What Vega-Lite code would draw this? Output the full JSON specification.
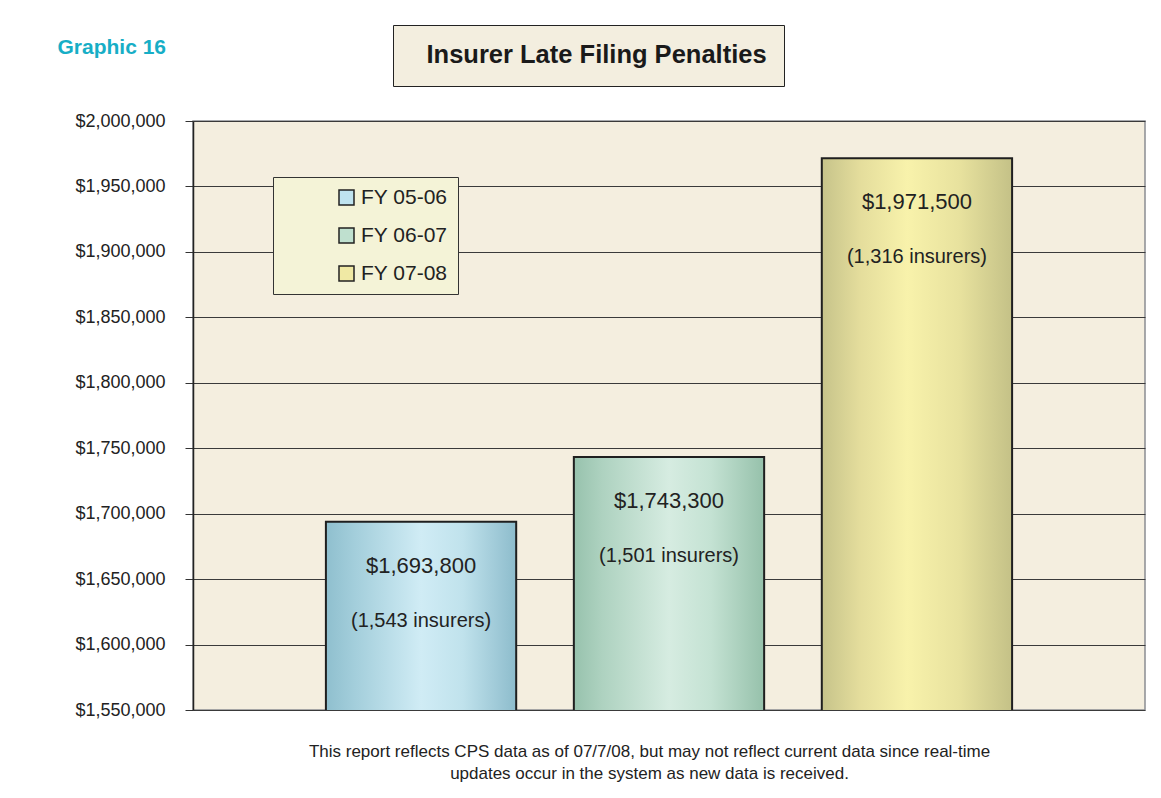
{
  "$schema": "https://vega.github.io/schema/vega-lite/v6.json",
  "autosize": {"type": "none"},
  "width": 952,
  "height": 589,
  "padding": {"left": 193, "top": 121, "right": 16, "bottom": 88},
  "background": "white",
  "config": {
    "font": "Liberation Sans",
    "view": {"fill": "#f4eedf", "stroke": "#8a8d92", "strokeWidth": 1.5}
  },
  "data": {
    "values": [
      {"fy": "FY 05-06", "penalty": 1693800, "insurers": 1543},
      {"fy": "FY 06-07", "penalty": 1743300, "insurers": 1501},
      {"fy": "FY 07-08", "penalty": 1971500, "insurers": 1316}
    ]
  },
  "transform": [
    {"calculate": "'(' + format(datum.insurers, ',') + ' insurers)'", "as": "insurers_label"}
  ],
  "encoding": {
    "x": {
      "field": "fy",
      "type": "nominal",
      "sort": null,
      "scale": {"paddingInner": 0.2325, "paddingOuter": 0.536},
      "axis": {
        "labels": false,
        "ticks": false,
        "domain": false,
        "title": ["This report reflects CPS data as of 07/7/08, but may not reflect current data since real-time", "updates occur in the system as new data is received."],
        "titleFontSize": 17,
        "titleFontWeight": "normal",
        "titleColor": "#222222",
        "titleX": 456,
        "titleY": 33,
        "titleAlign": "center",
        "titleBaseline": "top",
        "titleLineHeight": 22
      }
    },
    "y": {
      "field": "penalty",
      "type": "quantitative",
      "scale": {"domain": [1550000, 2000000], "nice": false, "zero": false},
      "axis": {
        "values": [1550000, 1600000, 1650000, 1700000, 1750000, 1800000, 1850000, 1900000, 1950000, 2000000],
        "format": "$,.0f",
        "labelFontSize": 18,
        "labelColor": "#222222",
        "labelPadding": 20,
        "tickSize": 8,
        "tickColor": "#333333",
        "domainColor": "#222222",
        "domainWidth": 1.5,
        "grid": true,
        "gridColor": "#3a3a3a",
        "gridWidth": 1,
        "title": "Graphic 16",
        "titleAngle": 0,
        "titleAlign": "left",
        "titleBaseline": "middle",
        "titleX": -136,
        "titleY": -74,
        "titleFontSize": 21,
        "titleFontWeight": "bold",
        "titleColor": "#17aec6"
      }
    }
  },
  "layer": [
    {
      "mark": {"type": "bar", "clip": true},
      "encoding": {
        "color": {
          "field": "fy",
          "type": "nominal",
          "scale": {"range": ["#bfe3ef", "#bfe0cf", "#f0e9a4"]},
          "legend": {
            "title": null,
            "orient": "none",
            "legendX": 80,
            "legendY": 56,
            "fillColor": "#f4f3d7",
            "strokeColor": "#333333",
            "padding": 10,
            "symbolOffset": 53,
            "symbolType": "square",
            "symbolSize": 225,
            "symbolStrokeColor": "#222222",
            "symbolStrokeWidth": 1.5,
            "labelFontSize": 21,
            "labelColor": "#222222",
            "labelOffset": 4,
            "rowPadding": 16
          }
        }
      }
    },
    {
      "mark": {"type": "bar", "strokeWidth": 2, "clip": true},
      "encoding": {
        "fill": {
          "condition": [
            {"test": "datum.fy === 'FY 05-06'", "value": {"gradient": "linear", "x1": 0, "y1": 0, "x2": 1, "y2": 0, "stops": [
              {"offset": 0, "color": "#8fbfce"},
              {"offset": 0.15, "color": "#a3cedb"},
              {"offset": 0.5, "color": "#d0ecf5"},
              {"offset": 0.72, "color": "#c0e2ec"},
              {"offset": 1, "color": "#8dbccc"}
            ]}},
            {"test": "datum.fy === 'FY 06-07'", "value": {"gradient": "linear", "x1": 0, "y1": 0, "x2": 1, "y2": 0, "stops": [
              {"offset": 0, "color": "#97c2ad"},
              {"offset": 0.15, "color": "#aed2c0"},
              {"offset": 0.5, "color": "#d6ece1"},
              {"offset": 0.72, "color": "#c4e2d3"},
              {"offset": 1, "color": "#96c1ab"}
            ]}}
          ],
          "value": {"gradient": "linear", "x1": 0, "y1": 0, "x2": 1, "y2": 0, "stops": [
            {"offset": 0, "color": "#c6c38a"},
            {"offset": 0.2, "color": "#e4dd9c"},
            {"offset": 0.45, "color": "#f8f2ab"},
            {"offset": 0.72, "color": "#e8e29e"},
            {"offset": 1, "color": "#c4c187"}
          ]}
        },
        "stroke": {
          "datum": "Insurer Late Filing Penalties",
          "type": "nominal",
          "scale": {"range": ["#1f1f1f"]},
          "legend": {
            "title": null,
            "orient": "none",
            "legendX": 200,
            "legendY": -96,
            "fillColor": "#f3eedf",
            "strokeColor": "#222222",
            "padding": 17,
            "symbolType": "square",
            "symbolSize": 100,
            "symbolOpacity": 0,
            "symbolStrokeWidth": 0,
            "labelFontSize": 25.5,
            "labelFontWeight": "bold",
            "labelColor": "#1a1a1a",
            "labelOffset": -9,
            "labelLimit": 600
          }
        }
      }
    },
    {
      "mark": {"type": "text", "dy": 44, "fontSize": 22, "color": "#222222", "baseline": "middle"},
      "encoding": {
        "text": {"field": "penalty", "type": "quantitative", "format": "$,.0f"}
      }
    },
    {
      "mark": {"type": "text", "dy": 99, "fontSize": 20, "color": "#222222", "baseline": "middle"},
      "encoding": {
        "text": {"field": "insurers_label", "type": "nominal"}
      }
    }
  ]
}
